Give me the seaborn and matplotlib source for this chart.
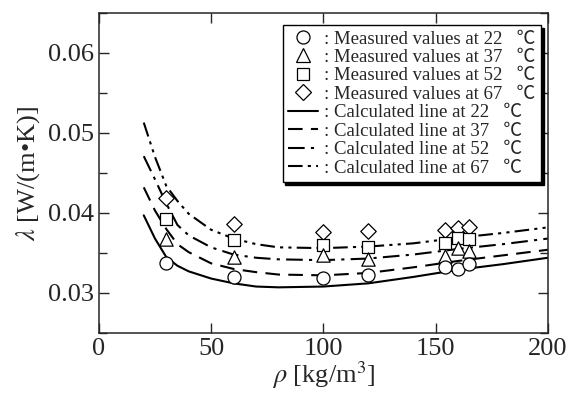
import numpy as np
import pandas as pd
import matplotlib
matplotlib.use("Agg")
import matplotlib.pyplot as plt
import seaborn as sns
from matplotlib.lines import Line2D
from matplotlib.ticker import MultipleLocator

# Style
sns.set_style("ticks")
plt.rcParams['font.family'] = ['Liberation Serif', 'Noto Sans CJK JP', 'DejaVu Serif']
plt.rcParams['mathtext.fontset'] = 'stix'

# Measured data (density kg/m3 -> conductivity W/(m.K))
rho_meas = [30, 60, 100, 120, 154, 160, 165]
meas_22 = [0.0338, 0.0320, 0.0319, 0.0323, 0.0332, 0.0330, 0.0336]
meas_37 = [0.0367, 0.0345, 0.0347, 0.0343, 0.0346, 0.0356, 0.0353]
meas_52 = [0.0393, 0.0366, 0.0360, 0.0357, 0.0362, 0.0369, 0.0367]
meas_67 = [0.0419, 0.0386, 0.0376, 0.0378, 0.0379, 0.0381, 0.0383]

# Calculated lines
rho_calc = [20, 25, 30, 35, 40, 50, 60, 70, 80, 100, 120, 140, 160, 180, 200]
calc_22 = [0.0397, 0.0368, 0.0345, 0.0334, 0.0327, 0.0318, 0.0312, 0.0308, 0.0307,
           0.0308, 0.0312, 0.0320, 0.0329, 0.0336, 0.0344]
calc_37 = [0.0432, 0.0403, 0.0380, 0.0361, 0.0351, 0.0337, 0.0330, 0.0326, 0.0323,
           0.0322, 0.0325, 0.0332, 0.0340, 0.0347, 0.0354]
calc_52 = [0.0471, 0.0442, 0.0412, 0.0385, 0.0372, 0.0357, 0.0348, 0.0344, 0.0342,
           0.0341, 0.0343, 0.0348, 0.0355, 0.0361, 0.0368]
calc_67 = [0.0513, 0.0470, 0.0434, 0.0415, 0.0399, 0.0379, 0.0368, 0.0361, 0.0357,
           0.0356, 0.0358, 0.0362, 0.0369, 0.0375, 0.0382]

temps = ['22', '37', '52', '67']
meas_series = [meas_22, meas_37, meas_52, meas_67]
calc_series = [calc_22, calc_37, calc_52, calc_67]
markers = ['o', '^', 's', 'D']
marker_sizes = [88, 92, 72, 62]
line_styles = ['-', (0, (7, 4)), (0, (8, 3, 1.5, 3)), (0, (7, 2.5, 1.5, 2.5, 1.5, 2.5))]

fig = plt.figure(figsize=(5.78, 3.94), dpi=100)
ax = fig.add_axes([0.171, 0.155, 0.777, 0.812])

for t, ys, ls in zip(temps, calc_series, line_styles):
    sns.lineplot(x=rho_calc, y=ys, ax=ax, color='black', linewidth=1.5,
                 linestyle=ls, sort=False, legend=False)

for t, ys, m, s in zip(temps[::-1], meas_series[::-1], markers[::-1], marker_sizes[::-1]):
    sns.scatterplot(x=rho_meas, y=ys, ax=ax, marker=m, s=s, facecolor='white',
                    edgecolor='black', linewidth=0.9, zorder=3, legend=False)

ax.set_xlim(0, 200)
ax.set_ylim(0.025, 0.065)
ax.xaxis.set_major_locator(MultipleLocator(50))
ax.yaxis.set_major_locator(MultipleLocator(0.01))
ax.yaxis.set_minor_locator(MultipleLocator(0.005))
ax.tick_params(which='both', direction='in', top=True, right=True, labelsize=19, width=1)
ax.tick_params(which='major', length=7)
ax.tick_params(which='minor', length=6)
ax.set_yticks([0.03, 0.04, 0.05, 0.06])
ax.set_yticklabels(['0.03', '0.04', '0.05', '0.06'])
for sp in ax.spines.values():
    sp.set_linewidth(1.1)

ax.set_xlabel(r'$\rho$ [kg/m$^3$]', fontsize=19, labelpad=0)
ax.set_ylabel(r'$\lambda$ [W/(m•K)]', fontsize=19, labelpad=4)

# Legend
handles = []
labels = []
for t, m, s in zip(temps, markers, marker_sizes):
    handles.append(Line2D([], [], marker=m, linestyle='none', markersize=np.sqrt(s),
                          markerfacecolor='white', markeredgecolor='black', markeredgewidth=0.9))
    labels.append(f': Measured values at {t}   ℃')
for t, ls in zip(temps, line_styles):
    handles.append(Line2D([], [], color='black', linewidth=1.5, linestyle=ls))
    labels.append(f': Calculated line at {t}   ℃')

leg = ax.legend(handles, labels, loc='upper right', bbox_to_anchor=(0.984, 0.963),
                borderaxespad=0, fontsize=13.5, labelspacing=0.07, handlelength=1.6,
                handletextpad=0.3, borderpad=0.3, fancybox=False, framealpha=1,
                edgecolor='black', shadow={'color': 'black', 'alpha': 1})
leg.get_frame().set_linewidth(1)

fig.savefig('out.png', dpi=100)
